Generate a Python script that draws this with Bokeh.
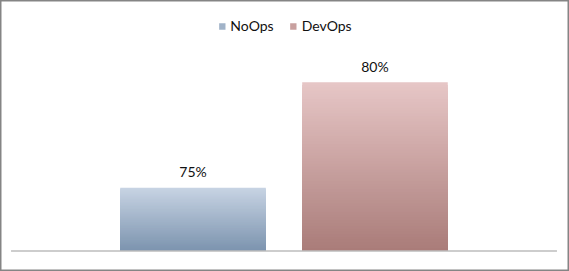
import numpy as np
from bokeh.plotting import figure
from bokeh.models import ColumnDataSource, Range1d, Legend, LegendItem
from bokeh.core.properties import value
from bokeh.embed import file_html
from bokeh.resources import INLINE

# ---- data ----
categories = ["NoOps", "DevOps"]
percent = [75, 80]
labels = ["75%", "80%"]
axis_min = 72
top_colors = ["#c7d3e3", "#e6c6c6"]
bottom_colors = ["#7b93ae", "#a97b78"]

FONT = "Lato"

p = figure(width=569, height=271, output_backend="svg", toolbar_location=None,
           x_range=Range1d(-1.058, 2.069), y_range=Range1d(71.03, 83.87),
           min_border=0, min_border_left=0, min_border_right=0,
           min_border_top=0, min_border_bottom=0)
p.axis.visible = False
p.grid.visible = False
p.outline_line_color = "#858585"
p.outline_line_width = 2
p.background_fill_color = "white"
p.border_fill_color = "white"


def hex2rgb(h):
    h = h.lstrip("#")
    return np.array([int(h[i:i + 2], 16) for i in (0, 2, 4)], dtype=float)


N = 60
items = []
for i, (cat, v) in enumerate(zip(categories, percent)):
    # overlapping quads, tallest first, so no seams between gradient steps
    tops = np.linspace(v, axis_min, N, endpoint=False)  # from top down
    t = np.linspace(1, 0, N, endpoint=False)              # 1 top -> 0 bottom
    c0, c1 = hex2rgb(bottom_colors[i]), hex2rgb(top_colors[i])
    cols = ["#%02x%02x%02x" % tuple(int(round(x)) for x in (c0 + (c1 - c0) * tt)) for tt in t]
    src = ColumnDataSource(dict(left=[i - 0.4] * N, right=[i + 0.4] * N,
                                bottom=[axis_min] * N, top=tops, color=cols))
    r = p.quad(left="left", right="right", bottom="bottom", top="top",
               fill_color="color", line_color=None, source=src)
    items.append(LegendItem(label=cat, renderers=[r], index=N // 2))

# baseline (category axis line)
p.segment(x0=[-1], x1=[len(categories)], y0=[axis_min], y1=[axis_min],
          line_color="#bcbcbc", line_width=1.6)

# value labels
lsrc = ColumnDataSource(dict(x=list(range(len(categories))), y=percent, t=labels))
p.text(x="x", y="y", text="t", source=lsrc, text_align="center",
       text_baseline="middle", y_offset=-16, text_font=value(FONT),
       text_font_size="14px", text_color="#111111")

legend = Legend(items=items, orientation="horizontal", location="top_center",
                glyph_width=8, glyph_height=8, label_standoff=5, spacing=15,
                padding=0, margin=17, border_line_color=None,
                background_fill_alpha=0, label_text_font=FONT,
                label_text_font_size="14px", label_text_color="#111111",
                label_height=14, label_text_baseline="middle")
p.add_layout(legend, "center")

open("out.html", "w").write(file_html(p, INLINE))
